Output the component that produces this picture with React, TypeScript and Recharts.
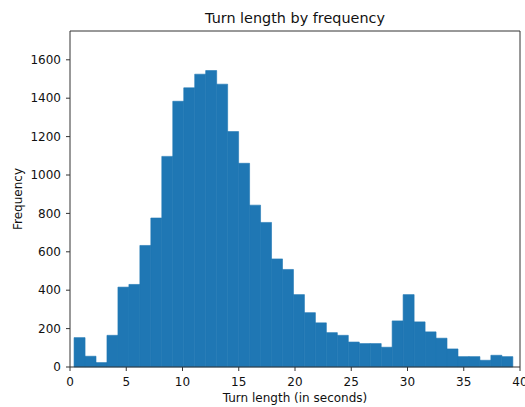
import React from 'react';
import { ComposedChart, Bar, XAxis, YAxis, ReferenceLine, Label } from 'recharts';

const binCenters = [
  0.848, 1.823, 2.798, 3.773, 4.748, 5.723, 6.698, 7.673, 8.648, 9.623,
  10.598, 11.573, 12.548, 13.523, 14.498, 15.473, 16.448, 17.423, 18.398, 19.373,
  20.348, 21.323, 22.298, 23.273, 24.248, 25.223, 26.198, 27.173, 28.148, 29.123,
  30.098, 31.073, 32.048, 33.023, 33.998, 34.973, 35.948, 36.923, 37.898, 38.873,
];
const counts = [
  153, 56, 23, 165, 416, 430, 633, 776, 1097, 1384,
  1454, 1525, 1544, 1473, 1226, 1061, 843, 753, 563, 508,
  377, 283, 230, 179, 165, 130, 122, 122, 103, 240,
  377, 235, 183, 150, 94, 54, 54, 35, 61, 54,
];
const xTicks = [0, 5, 10, 15, 20, 25, 30, 35, 40];
const yTicks = [0, 200, 400, 600, 800, 1000, 1200, 1400, 1600];

const title = 'Turn length by frequency';
const xLabel = 'Turn length (in seconds)';
const yLabel = 'Frequency';

const data = binCenters.map((x, i) => ({ x, count: counts[i] }));

const FONT = '"DejaVu Sans", sans-serif';
const AXIS = '#333';

export default function App() {
  return (
    <div style={{ position: 'absolute', left: 0, top: 0, width: 525, height: 407, background: '#fff' }}>
      <ComposedChart
        width={525}
        height={407}
        data={data}
        margin={{ top: 31, right: 5, bottom: 0, left: 0 }}
        barCategoryGap={0}
        barGap={0}
      >
        <XAxis
          dataKey="x"
          type="number"
          domain={[0, 40]}
          ticks={xTicks}
          height={40}
          tickSize={4}
          tickMargin={6}
          interval={0}
          stroke={AXIS}
          tick={{ fill: '#111', fontSize: 12, fontFamily: FONT }}
        >
          <Label value={xLabel} position="insideBottom" offset={5} fill="#111" fontSize={12} fontFamily={FONT} />
        </XAxis>
        <YAxis
          type="number"
          domain={[0, 1750]}
          ticks={yTicks}
          width={70}
          tickSize={4}
          tickMargin={5}
          interval={0}
          stroke={AXIS}
          tick={{ fill: '#111', fontSize: 12, fontFamily: FONT }}
        >
          <Label
            content={(props: any) => {
              const vb = props.viewBox || { x: 0, y: 31, width: 70, height: 336 };
              const cx = vb.x + 21.5;
              const cy = vb.y + vb.height / 2;
              return (
                <text x={cx} y={cy} transform={`rotate(-90 ${cx} ${cy})`} textAnchor="middle" fill="#111" fontSize={12} fontFamily={FONT}>
                  {yLabel}
                </text>
              );
            }}
          />
        </YAxis>
        <Bar dataKey="count" fill="#1f77b4" stroke="#1f77b4" strokeWidth={0.6} isAnimationActive={false} />
        <ReferenceLine y={1750} stroke={AXIS} strokeWidth={1} ifOverflow="visible" />
        <ReferenceLine x={40} stroke={AXIS} strokeWidth={1} ifOverflow="visible" />
      </ComposedChart>
      <svg width={525} height={40} style={{ position: 'absolute', left: 0, top: 0, pointerEvents: 'none' }}>
        <text x={295} y={23.3} textAnchor="middle" fill="#111" fontSize={14.4} fontFamily={FONT}>
          {title}
        </text>
      </svg>
    </div>
  );
}
